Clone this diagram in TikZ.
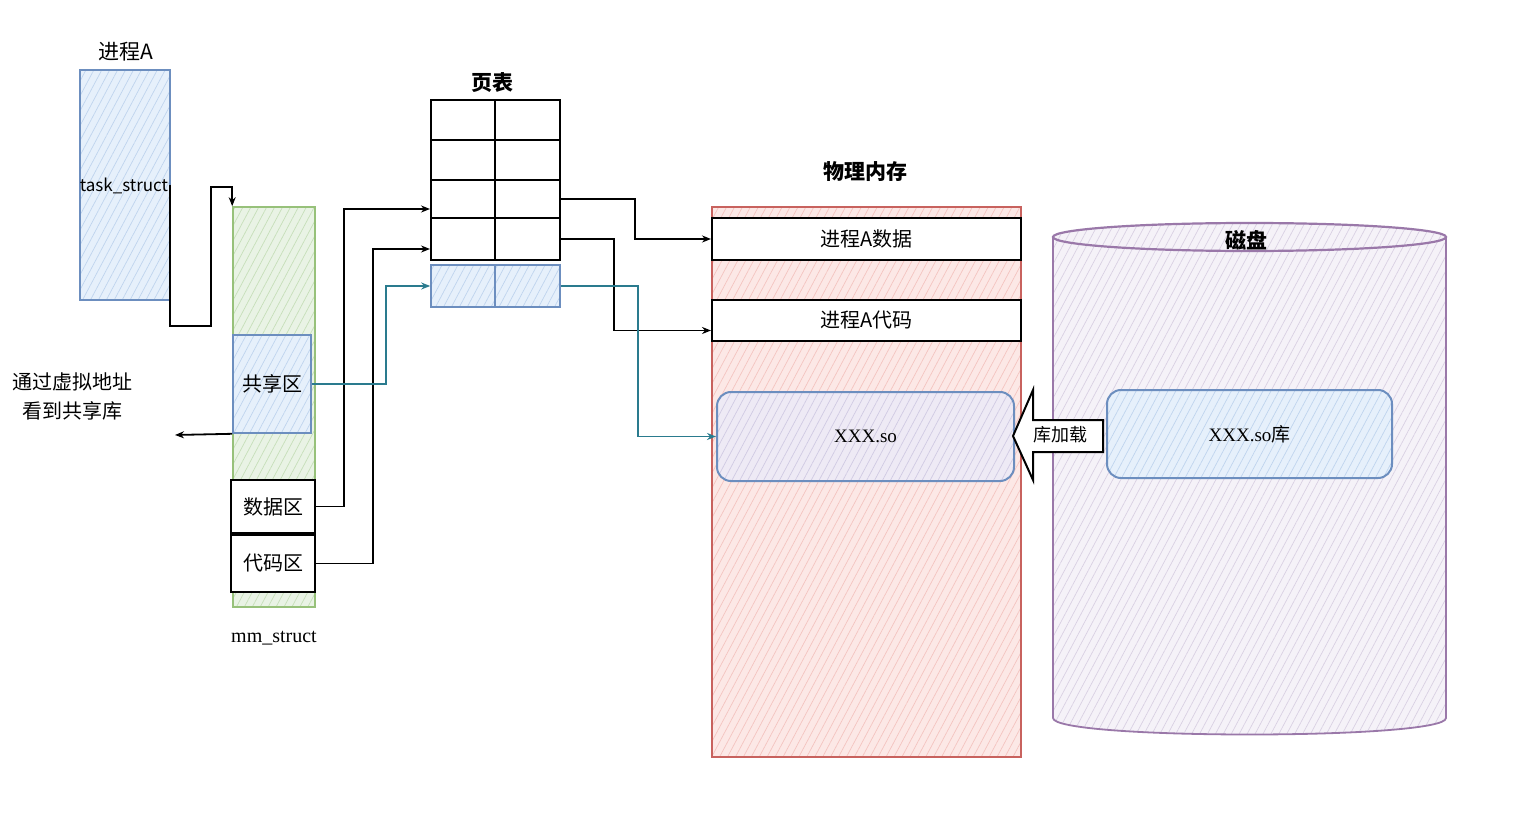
\documentclass[tikz,border=0pt]{standalone}
\usepackage{fontspec}
\setmainfont{Noto Sans CJK SC}
\newfontfamily\seriffam{Liberation Serif}
\usetikzlibrary{patterns.meta,fit,calc,arrows.meta}
\definecolor{blueD}{HTML}{6C8EBF}
\definecolor{blueF}{HTML}{E6F0FB}
\definecolor{blueL}{HTML}{BFD4EE}
\definecolor{greenD}{HTML}{97C17A}
\definecolor{greenF}{HTML}{E9F3E5}
\definecolor{greenL}{HTML}{C6DFB9}
\definecolor{redD}{HTML}{C8625E}
\definecolor{redF}{HTML}{FCE8E6}
\definecolor{redL}{HTML}{F4C4C0}
\definecolor{purD}{HTML}{9A78A9}
\definecolor{purF}{HTML}{F5F2F8}
\definecolor{purL}{HTML}{D9D0E3}
\definecolor{soF}{HTML}{EEEAF5}
\definecolor{soL}{HTML}{D0CAE3}
\definecolor{tealc}{HTML}{2A7B8E}
\begin{document}
\begin{tikzpicture}[x=0.5pt,y=-0.5pt,
  hatchA/.style={preaction={fill=blueF}, pattern={Lines[angle=62,distance=3.5pt,line width=0.35pt]}, pattern color=blueL},
  hatchG/.style={preaction={fill=greenF}, pattern={Lines[angle=62,distance=3.5pt,line width=0.35pt]}, pattern color=greenL},
  hatchR/.style={preaction={fill=redF}, pattern={Lines[angle=62,distance=3.5pt,line width=0.35pt]}, pattern color=redL},
  hatchP/.style={preaction={fill=purF}, pattern={Lines[angle=62,distance=3.5pt,line width=0.35pt]}, pattern color=purL},
  hatchS/.style={preaction={fill=soF}, pattern={Lines[angle=62,distance=3.5pt,line width=0.35pt]}, pattern color=soL},
  fitbox/.style={inner sep=0pt, line width=0.8pt},
  blk/.style={fitbox, draw=black, line width=1pt, fill=white},
  cell/.style={fitbox, draw=black, line width=1pt},
  lbl/.style={font=\fontsize{10}{12}\selectfont, inner sep=0pt},
  ttl/.style={font=\fontsize{10.5}{12}\selectfont\bfseries},
  arr/.style={-{Stealth[length=4.5pt,width=3.5pt]}, line width=0.9pt, draw=black},
  tarr/.style={arr, draw=tealc, -{Stealth[length=4.5pt,width=3.5pt,open]}}
]
\path[fill=white] (0,0) rectangle (1540,828);
\useasboundingbox (0,0) rectangle (1540,828);

% Process A
\node[font=\fontsize{10.5}{12}\selectfont] (ptitle) at (126,52) {进程A};
\node[fitbox, draw=blueD, hatchA, fit={(80,70)(170,300)}] (task) {};
\node[font=\fontsize{8.5}{10}\selectfont, inner sep=0pt] (tasklbl) at (124,186) {task\_struct};

% mm_struct
\node[fitbox, draw=greenD, hatchG, fit={(233,207)(315,607)}] (mm) {};
\node[font=\seriffam\fontsize{10}{12}\selectfont] (mmlbl) at (274,638) {mm\_struct};
\node[fitbox, draw=blueD, hatchA, fit={(233,335)(311,433)}] (share) {};
\node[lbl] (sharelbl) at (share.center) {共享区};
\node[blk, fit={(231,480)(315,533)}] (data) {};
\node[lbl] (datalbl) at (data.center) {数据区};
\node[blk, fit={(231,535)(315,592)}] (code) {};
\node[lbl] (codelbl) at (code.center) {代码区};

% note
\node[align=center, font=\fontsize{10}{14.5}\selectfont] (note) at (72,396) {通过虚拟地址\\看到共享库};
\coordinate (noteend) at (175,435);

% page table
\node[ttl] (pttitle) at (492,83) {页表};
\foreach \r/\ya/\yb in {1/100/140,2/140/180,3/180/218,4/218/260}{
  \node[cell, fit={(431,\ya)(495,\yb)}] (pt\r1) {};
  \node[cell, fit={(495,\ya)(560,\yb)}] (pt\r2) {};
}
\node[fitbox, draw=blueD, hatchA, fit={(431,265)(495,307)}] (ptb1) {};
\node[fitbox, draw=blueD, hatchA, fit={(495,265)(560,307)}] (ptb2) {};

% physical memory
\node[ttl] (pmtitle) at (865,172) {物理内存};
\node[fitbox, draw=redD, hatchR, fit={(712,207)(1021,757)}] (pm) {};
\node[blk, fit={(712,218)(1021,260)}] (pmdata) {};
\node[lbl] (pmdatalbl) at (pmdata.center) {进程A数据};
\node[blk, fit={(712,300)(1021,341)}] (pmcode) {};
\node[lbl] (pmcodelbl) at (pmcode.center) {进程A代码};
\node[fitbox, draw=blueD, line width=1pt, hatchS, rounded corners=7pt, fit={(717,392)(1014,481)}] (so) {};
\node[lbl, font=\seriffam\fontsize{9.5}{11}\selectfont] (solbl) at (so.center) {XXX.so};

% disk
\path[hatchP] (1053,237) -- (1053,718) .. controls (1053,740) and (1446,740) .. (1446,718) -- (1446,237) arc[start angle=0, end angle=-180, x radius=196.5, y radius=14] -- cycle;
\draw[purD, line width=0.9pt] (1053,237) -- (1053,718) .. controls (1053,740) and (1446,740) .. (1446,718) -- (1446,237);
\draw[purD, line width=1.1pt] (1249.5,237) ellipse [x radius=196.5, y radius=14];
\node[ttl] (disktitle) at (1246,240) {磁盘};
\node[fitbox, draw=blueD, line width=1pt, hatchA, rounded corners=7pt, fit={(1107,390)(1392,478)}] (solib) {};
\node[lbl, font=\fontsize{9.5}{11}\selectfont] (soliblbl) at (solib.center) {{\seriffam XXX.so}库};

% load arrow
\draw[black, line width=1pt, fill=white] (1013,436) -- (1033,390) -- (1033,420) -- (1103,420) -- (1103,452) -- (1033,452) -- (1033,480) -- cycle;
\node[font=\fontsize{9}{11}\selectfont, inner sep=0pt] (loadlbl) at (1060,435) {库加载};

% connectors
\draw[arr, line width=1pt] (task.east) |- (211,326) -- (211,187) -| (mm.north west);
\draw[arr] (share.south west) -- (noteend);
\draw[arr] (data.east) -- ++(28,0) |- ($(pt31.west)+(0,10)$);
\draw[arr] (code.east) -- ++(57,0) |- ($(pt41.west)+(0,10)$);
\draw[tarr] (share.east) -- ++(74,0) |- (ptb1.west);
\draw[arr] (pt32.east) -- ++(74,0) |- (pmdata.west);
\draw[arr] (pt42.east) -- ++(53,0) |- ($(pmcode.west)+(0,10)$);
\draw[tarr] (ptb2.east) -- ++(77,0) |- (so.west);
\end{tikzpicture}
\end{document}
